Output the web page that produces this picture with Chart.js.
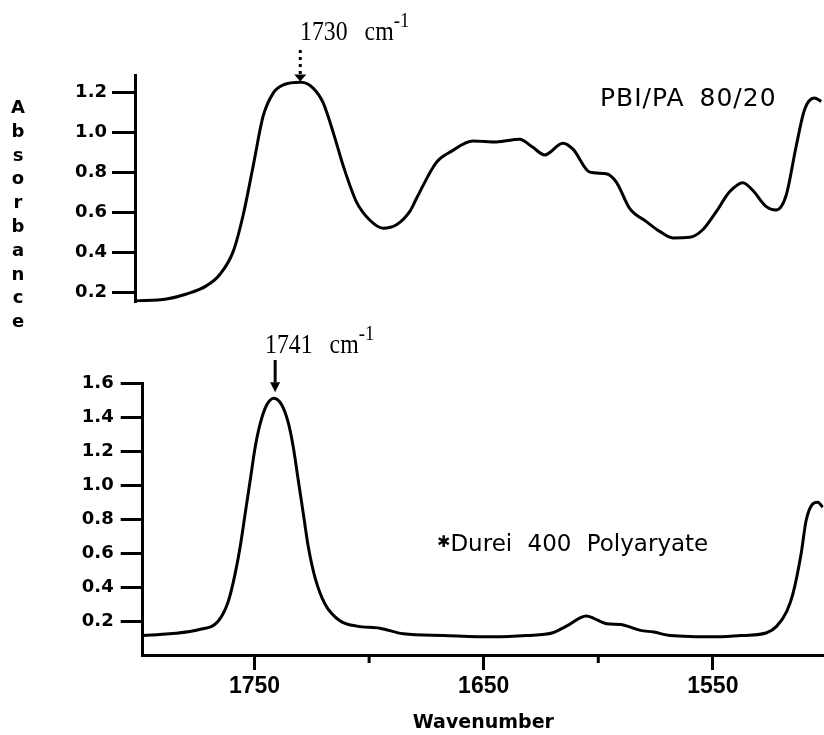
<!DOCTYPE html>
<html>
<head>
<meta charset="utf-8">
<script src="https://cdn.jsdelivr.net/npm/chart.js@4.4.1/dist/chart.umd.min.js"></script>
<style>
  html, body { margin: 0; padding: 0; background: #fff; }
  #page { position: relative; width: 824px; height: 735px; overflow: hidden; background: #fff; }
  canvas { position: absolute; left: 0; }
  #topChart { top: 0; }
  #bottomChart { top: 318px; }
  .note { position: absolute; color: #000; white-space: nowrap; }
  .serif { font-family: 'Liberation Serif', serif; font-size: 28px; line-height: 28px; transform: scaleX(0.85); transform-origin: left top; }
  .serif .cm { margin-left: 20px; }
  .serif .sup { position: relative; top: -13px; font-size: 22px; }
  .sans { font-family: 'DejaVu Sans', sans-serif; }
  #ylabel { left: 8px; top: 95px; width: 20px; text-align: center; font: bold 18px/23.8px 'DejaVu Sans', sans-serif; }
</style>
</head>
<body>
<div id="page">
  <canvas id="topChart" width="824" height="318"></canvas>
  <canvas id="bottomChart" width="824" height="417"></canvas>
  <div class="note" id="ylabel">A<br>b<br>s<br>o<br>r<br>b<br>a<br>n<br>c<br>e</div>
  <div class="note serif" style="left:300px;top:17px">1730<span class="cm">cm</span><span class="sup">-1</span></div>
  <div class="note serif" style="left:265px;top:330px">1741<span class="cm">cm</span><span class="sup">-1</span></div>
  <div class="note sans" style="left:600px;top:85px;font-size:25px;line-height:25px;letter-spacing:1px;word-spacing:6px">PBI/PA 80/20</div>
  <div class="note sans" style="left:437px;top:532px;font-size:23px;line-height:23px;word-spacing:8px"><span style="font-size:16px;position:relative;top:-4px">✱</span>Durei 400 Polyaryate</div>
</div>

<script>
// PBI/PA 80/20 blend spectrum (upper panel)
const topWavenumber = [1802, 1788.3, 1779.6, 1770.8, 1765.0, 1759.2, 1754.9, 1750.5, 1746.2, 1741.8,
  1737.4, 1729.7, 1724.4, 1720.0, 1715.6, 1711.3, 1705.5, 1699.7, 1693.9, 1688.0,
  1682.2, 1679.3, 1670.6, 1664.8, 1654.6, 1644.4, 1634.3, 1628.5, 1623.4, 1615.4,
  1611.0, 1603.7, 1596.5, 1592.1, 1586.3, 1579.0, 1573.2, 1567.4, 1560.1, 1554.4,
  1548.5, 1542.7, 1536.9, 1532.6, 1526.7, 1522.4, 1518.0, 1513.6, 1510.0, 1505.7, 1502.7];
const topAbsorbance = [0.155, 0.165, 0.19, 0.232, 0.289, 0.405, 0.586, 0.834, 1.081, 1.197,
  1.238, 1.251, 1.222, 1.148, 0.999, 0.834, 0.652, 0.561, 0.520, 0.537,
  0.604, 0.669, 0.85, 0.9, 0.957, 0.952, 0.966, 0.925, 0.887, 0.946,
  0.916, 0.801, 0.793, 0.751, 0.619, 0.553, 0.504, 0.471, 0.474, 0.512,
  0.603, 0.702, 0.748, 0.71, 0.628, 0.611, 0.685, 0.933, 1.114, 1.172, 1.155];

// Durel 400 polyarylate spectrum (lower panel)
const bottomWavenumber = [1798.8, 1787, 1774, 1765.8, 1761.4, 1758.5, 1756.3, 1754.1, 1751.9, 1749.7,
  1747.5, 1744.7, 1741.5, 1738.1, 1735.2, 1733.1, 1730.9, 1728.7, 1726.5, 1723.6,
  1719.2, 1712.6, 1705.4, 1695.3, 1685.1, 1667.7, 1645.9, 1631.3, 1619.8, 1613.9,
  1605.2, 1602, 1596.2, 1590.4, 1581.6, 1575.8, 1568.6, 1548.3, 1536.7, 1526.5,
  1522.1, 1517.7, 1515.1, 1511.5, 1509.3, 1506.4, 1504.2, 1502.1];
const bottomAbsorbance = [0.115, 0.125, 0.15, 0.2, 0.318, 0.476, 0.634, 0.831, 1.028, 1.225,
  1.364, 1.472, 1.512, 1.472, 1.364, 1.225, 1.028, 0.831, 0.634, 0.456,
  0.299, 0.2, 0.17, 0.158, 0.125, 0.115, 0.107, 0.115, 0.131, 0.17,
  0.23, 0.216, 0.184, 0.18, 0.145, 0.135, 0.115, 0.107, 0.115, 0.131,
  0.17, 0.259, 0.358, 0.595, 0.792, 0.89, 0.9, 0.87];

const topYTicks = [0.2, 0.4, 0.6, 0.8, 1.0, 1.2];
const bottomYTicks = [0.2, 0.4, 0.6, 0.8, 1.0, 1.2, 1.4, 1.6];
const xMajorTicks = [1750, 1650, 1550];
const xMinorTicks = [1700, 1600];

const topPeak = { wn: 1730, value: 1.25 };
const bottomPeak = { wn: 1741, value: 1.512 };

Chart.defaults.font.family = "'DejaVu Sans', sans-serif";
Chart.defaults.color = '#000';

function toPoints(xs, ys) {
  return xs.map((x, i) => ({ x: x, y: ys[i] }));
}

function lineDataset(xs, ys) {
  return {
    data: toPoints(xs, ys),
    borderColor: '#000',
    borderWidth: 3,
    pointRadius: 0,
    fill: false,
    cubicInterpolationMode: 'monotone'
  };
}

function yAxis(min, max, tickList, width, tickLength, pad) {
  return {
    min: min,
    max: max,
    afterFit: s => { s.width = width; },
    afterBuildTicks: s => { s.ticks = tickList.map(v => ({ value: v })); },
    ticks: {
      callback: v => Number(v).toFixed(1),
      color: '#000',
      padding: pad,
      font: { size: 18, weight: 'bold' }
    },
    grid: { drawOnChartArea: false, drawTicks: true, tickLength: tickLength, tickWidth: 3, tickColor: '#000' },
    border: { display: true, color: '#000', width: 3 }
  };
}

// arrow pointing down at a peak, tail at a fixed canvas height
function peakArrow(peak, tailY, gap, headH, headW, dotted) {
  return {
    id: 'peakArrow',
    afterDatasetsDraw(chart) {
      const { ctx, scales: { x, y } } = chart;
      const px = x.getPixelForValue(peak.wn);
      const tip = y.getPixelForValue(peak.value) - gap;
      ctx.save();
      ctx.strokeStyle = '#000';
      ctx.fillStyle = '#000';
      ctx.lineWidth = 3;
      if (dotted) ctx.setLineDash([3, 4]);
      ctx.beginPath();
      ctx.moveTo(px, tailY);
      ctx.lineTo(px, tip - headH);
      ctx.stroke();
      ctx.setLineDash([]);
      ctx.beginPath();
      ctx.moveTo(px - headW, tip - headH);
      ctx.lineTo(px + headW, tip - headH);
      ctx.lineTo(px, tip);
      ctx.closePath();
      ctx.fill();
      ctx.restore();
    }
  };
}

const minorTicks = {
  id: 'minorTicks',
  afterDraw(chart) {
    const { ctx, scales: { x } } = chart;
    ctx.save();
    ctx.strokeStyle = '#000';
    ctx.lineWidth = 3;
    xMinorTicks.forEach(v => {
      const px = x.getPixelForValue(v);
      ctx.beginPath();
      ctx.moveTo(px, x.top);
      ctx.lineTo(px, x.top + 8);
      ctx.stroke();
    });
    ctx.restore();
  }
};

const common = {
  responsive: false,
  animation: false,
  devicePixelRatio: 1,
  plugins: { legend: { display: false }, tooltip: { enabled: false } }
};

new Chart(document.getElementById('topChart'), {
  type: 'line',
  data: { datasets: [lineDataset(topWavenumber, topAbsorbance)] },
  options: Object.assign({}, common, {
    layout: { padding: { top: 75, bottom: 13, left: 0, right: 0 } },
    scales: {
      x: { type: 'linear', reverse: true, min: 1501.5, max: 1802.1, display: false },
      y: yAxis(0.149, 1.2876, topYTicks, 135, 23, 5)
    }
  }),
  plugins: [peakArrow(topPeak, 50, 1, 7, 6, true)]
});

new Chart(document.getElementById('bottomChart'), {
  type: 'line',
  data: { datasets: [lineDataset(bottomWavenumber, bottomAbsorbance)] },
  options: Object.assign({}, common, {
    layout: { padding: { top: 65.3, bottom: 0, left: 0, right: 0 } },
    scales: {
      x: {
        type: 'linear', reverse: true, min: 1501.5, max: 1798.8,
        afterFit: s => { s.height = 80; },
        afterBuildTicks: s => { s.ticks = xMajorTicks.map(v => ({ value: v })); },
        ticks: {
          callback: v => String(v),
          autoSkip: false, maxRotation: 0, padding: 3, color: '#000',
          font: { family: "'Liberation Sans', sans-serif", size: 23, weight: 'bold' }
        },
        grid: { drawOnChartArea: false, drawTicks: true, tickLength: 15, tickWidth: 3, tickColor: '#000' },
        border: { display: true, color: '#000', width: 3 },
        title: { display: true, text: 'Wavenumber', color: '#000', padding: { top: 0, bottom: 1 }, font: { size: 19, weight: 'bold' } }
      },
      y: yAxis(0, 1.6, bottomYTicks, 142.7, 22, 7)
    }
  }),
  plugins: [peakArrow(bottomPeak, 42, 6, 10, 5, false), minorTicks]
});
</script>
</body>
</html>
